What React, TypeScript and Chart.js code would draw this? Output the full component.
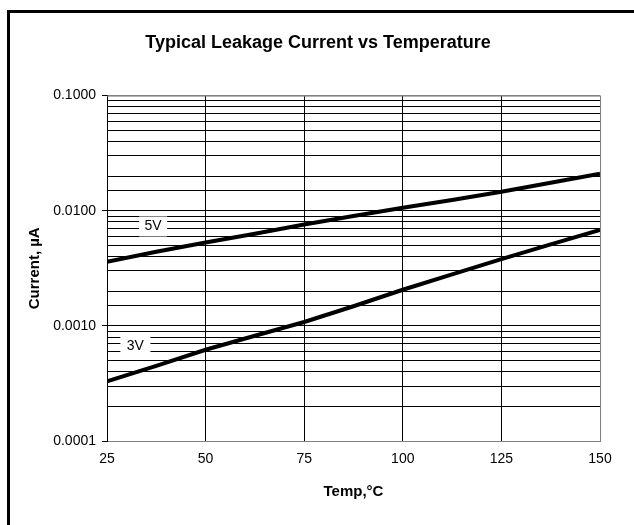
import React, { useEffect, useRef } from "react";
import { Chart, registerables } from "chart.js";

Chart.register(...registerables);

const temps = [25, 37.5, 50, 62.5, 75, 87.5, 100, 112.5, 125, 137.5, 150];
const current5V = [0.0036, 0.0044, 0.0053, 0.0063, 0.0076, 0.009, 0.0106, 0.0124, 0.0146, 0.0175, 0.021];
const current3V = [0.00033, 0.00045, 0.00062, 0.00082, 0.00108, 0.00148, 0.00206, 0.0028, 0.0038, 0.0051, 0.0068];
const seriesNames = ["5V", "3V"];
const xTickValues = [25, 50, 75, 100, 125, 150];
const yMin = 0.0001;
const yMax = 0.1;
const titleText = "Typical Leakage Current vs Temperature";
const xTitle = "Temp,°C";
const yTitle = "Current, µA";

const FONT = "Arial, 'Liberation Sans', sans-serif";

const isDecade = (v: number) => Math.abs(Math.log10(v) - Math.round(Math.log10(v))) < 1e-9;

const seriesLabelPlugin = {
  id: "seriesLabels",
  afterDatasetsDraw(chart: any, _args: any, opts: any) {
    const { ctx, scales } = chart;
    const items = opts.items || [];
    ctx.save();
    ctx.font = `14px ${FONT}`;
    ctx.textAlign = "center";
    ctx.textBaseline = "middle";
    for (const it of items) {
      const px = scales.x.getPixelForValue(it.x);
      const py = scales.y.getPixelForValue(it.y);
      ctx.fillStyle = "#fff";
      ctx.fillRect(px - it.w / 2, py - 10, it.w, 20);
      ctx.fillStyle = "#000";
      ctx.fillText(it.text, px, py);
    }
    ctx.restore();
  },
};

const borderPlugin = {
  id: "plotBorder",
  beforeDatasetsDraw(chart: any) {
    const { ctx, chartArea: a } = chart;
    ctx.save();
    ctx.strokeStyle = "#808080";
    ctx.lineWidth = 1;
    ctx.beginPath();
    ctx.moveTo(a.left, a.top + 0.5);
    ctx.lineTo(a.right + 0.5, a.top + 0.5);
    ctx.lineTo(a.right + 0.5, a.bottom + 0.5);
    ctx.stroke();
    ctx.restore();
  },
};

export default function App() {
  const ref = useRef<HTMLCanvasElement>(null);
  useEffect(() => {
    if (!ref.current) return;
    const chart = new Chart(ref.current, {
      type: "line",
      data: {
        datasets: [
          {
            label: seriesNames[0],
            data: temps.map((t, i) => ({ x: t, y: current5V[i] })),
            borderColor: "#000",
            borderWidth: 4,
            pointRadius: 0,
            fill: false,
          },
          {
            label: seriesNames[1],
            data: temps.map((t, i) => ({ x: t, y: current3V[i] })),
            borderColor: "#000",
            borderWidth: 4,
            pointRadius: 0,
            fill: false,
          },
        ],
      },
      plugins: [borderPlugin, seriesLabelPlugin],
      options: {
        animation: false,
        responsive: false,
        maintainAspectRatio: false,
        layout: { padding: { left: 36, right: 34, top: 0, bottom: 0 } },
        plugins: {
          legend: { display: false },
          tooltip: { enabled: false },
          title: {
            display: true,
            text: titleText,
            color: "#000",
            font: { family: FONT, size: 18, weight: "bold" },
            padding: { top: 32, bottom: 42 },
          },
          seriesLabels: {
            items: [
              { text: seriesNames[0], x: 36.7, y: 0.0073, w: 28 },
              { text: seriesNames[1], x: 32.2, y: 0.00067, w: 30 },
            ],
          },
        } as any,
        scales: {
          x: {
            type: "linear",
            min: 25,
            max: 150,
            afterBuildTicks: (s: any) => {
              s.ticks = xTickValues.map((v) => ({ value: v }));
            },
            ticks: {
              color: "#000",
              font: { family: FONT, size: 14 },
              padding: 10,
              maxRotation: 0,
              autoSkip: false,
            },
            grid: {
              color: (c: any) => (c.tick && c.tick.value === 150 ? "#808080" : "#000"),
              drawTicks: false,
              lineWidth: 1,
            },
            border: { color: "#808080", width: 1 },
            title: {
              display: true,
              text: xTitle,
              color: "#000",
              font: { family: FONT, size: 15, weight: "bold" },
              padding: { top: 0, bottom: 24 },
            },
            afterFit: (s: any) => {
              s.height = 84;
            },
          },
          y: {
            type: "logarithmic",
            min: yMin,
            max: yMax,
            ticks: {
              color: "#000",
              font: { family: FONT, size: 14 },
              padding: 6,
              autoSkip: false,
              callback: (v: any) => (isDecade(Number(v)) ? Number(v).toFixed(4) : ""),
            },
            grid: {
              color: (c: any) => (c.tick && c.tick.value === yMax ? "#808080" : "#000"),
              tickColor: (c: any) => (c.tick && isDecade(c.tick.value) ? "#000" : "rgba(0,0,0,0)"),
              tickLength: 5,
              lineWidth: 1,
            },
            border: { color: "#000", width: 1 },
            title: {
              display: true,
              text: yTitle,
              color: "#000",
              font: { family: FONT, size: 15, weight: "bold" },
              padding: { top: -10, bottom: 0 },
            },
            afterFit: (s: any) => {
              s.width = 71;
            },
          },
        },
      } as any,
    });
    return () => chart.destroy();
  }, []);

  return (
    <div style={{ position: "fixed", left: 0, top: 0, width: 634, height: 525, overflow: "hidden", background: "#fff" }}>
      <div
        style={{
          position: "absolute",
          left: 7,
          top: 10,
          width: 700,
          height: 600,
          border: "3px solid #000",
          boxSizing: "border-box",
        }}
      />
      <canvas ref={ref} width={634} height={525} style={{ position: "absolute", left: 0, top: 0 }} />
    </div>
  );
}
